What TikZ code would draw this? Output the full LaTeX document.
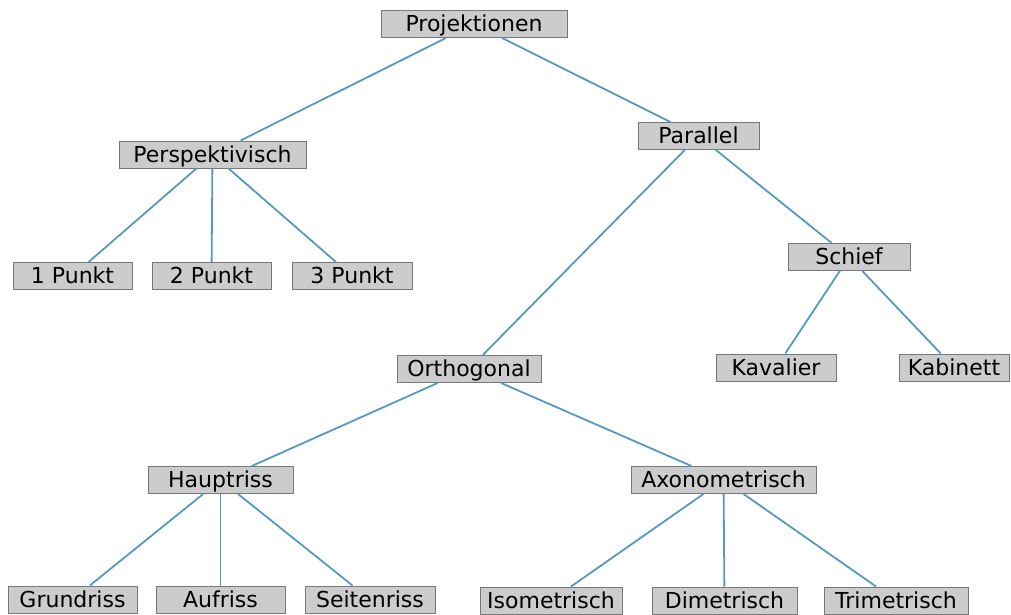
\documentclass[tikz,border=0pt]{standalone}
\usepackage{fontspec}
\setmainfont{DejaVu Sans}
\definecolor{boxfill}{RGB}{204,204,204}
\definecolor{boxline}{RGB}{120,120,120}
\definecolor{edgeblue}{RGB}{84,154,190}
\begin{document}
\begin{tikzpicture}[x=1pt,y=-1pt,
  box/.style={draw=boxline,fill=boxfill,line width=1pt,minimum height=27pt,inner sep=0pt,
    text height=18pt,text depth=3pt,font=\fontsize{22}{25}\selectfont},
  edge/.style={draw=edgeblue,line width=1.8pt}]
\useasboundingbox (0,0) rectangle (1011,615);
% tree nodes
\node[box,minimum width=186pt] (proj) at (474,24) {Projektionen};
\node[box,minimum width=187pt] (persp) at (212.5,154.5) {Perspektivisch};
\node[box,minimum width=121pt] (par) at (698.5,136) {Parallel};
\node[box,minimum width=119pt] (p1) at (72.5,276) {1 Punkt};
\node[box,minimum width=119pt] (p2) at (211.5,276) {2 Punkt};
\node[box,minimum width=120pt] (p3) at (352,276) {3 Punkt};
\node[box,minimum width=122pt] (schief) at (849,257) {Schief};
\node[box,minimum width=144pt] (ortho) at (469,369) {Orthogonal};
\node[box,minimum width=120pt] (kav) at (776,367.5) {Kavalier};
\node[box,minimum width=110pt] (kab) at (954,367.5) {Kabinett};
\node[box,minimum width=145pt] (haupt) at (220.5,480) {Hauptriss};
\node[box,minimum width=185pt] (axo) at (723.5,480) {Axonometrisch};
\node[box,minimum width=129pt] (grund) at (72.5,599.5) {Grundriss};
\node[box,minimum width=129pt] (auf) at (220.5,599.5) {Aufriss};
\node[box,minimum width=130pt] (seite) at (370,599.5) {Seitenriss};
\node[box,minimum width=142pt] (iso) at (551,600.5) {Isometrisch};
\node[box,minimum width=145pt] (dim) at (724.5,600.5) {Dimetrisch};
\node[box,minimum width=144pt] (tri) at (896,600.5) {Trimetrisch};
% connectors
\draw[edge] (proj) -- (persp);
\draw[edge] (proj) -- (par);
\draw[edge] (persp) -- (p1);
\draw[edge] (persp) -- (p2);
\draw[edge] (persp) -- (p3);
\draw[edge] (par) -- (ortho);
\draw[edge] (par) -- (schief);
\draw[edge] (schief) -- (kav);
\draw[edge] (schief) -- (kab);
\draw[edge] (ortho) -- (haupt);
\draw[edge] (ortho) -- (axo);
\draw[edge] (haupt) -- (grund);
\draw[edge] (haupt) -- (auf);
\draw[edge] (haupt) -- (seite);
\draw[edge] (axo) -- (iso);
\draw[edge] (axo) -- (dim);
\draw[edge] (axo) -- (tri);
\end{tikzpicture}
\end{document}
